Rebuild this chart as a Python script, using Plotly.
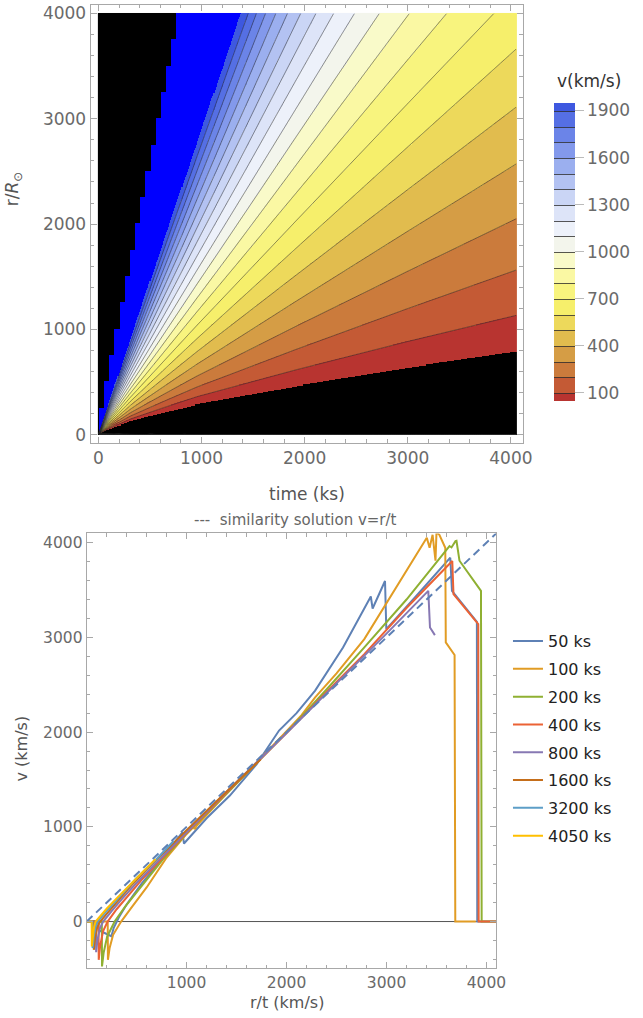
import numpy as np
import plotly.graph_objects as go

# ---------------- top panel: v(r, t) field ----------------
KMS_PER_RSUN_PER_KS = 696.0           # (R_sun / ks) -> km/s, similarity v = r/t
# inner (black) boundary of the flow
bound_t = [0, 10, 95, 315, 640, 955, 1909, 2978, 4050]
bound_r = [0, 8, 47, 126, 208, 284, 457, 631, 790]
# shock position: staircase sampled every 50 ks, 5 R_sun per ks
SHOCK_RATE = 5.0
SHOCK_STEP = 50.0
levels = list(range(100, 2000, 100))
cbar_ticks = [100, 400, 700, 1000, 1300, 1600, 1900]
band_colors = ["#B83430", "#C45A35", "#CB7B3C", "#D59D45", "#E1BC4E", "#EDD95B",
               "#F6EF6B", "#F8F47E", "#FAF8A3", "#F9FAC9", "#F3F5EC", "#EDF1FA",
               "#DDE4F8", "#CAD5F5", "#B3C2F2", "#9BAFEF", "#8399EC", "#6B84E8",
               "#556FE4", "#3E58E0"]
OUT_LOW = "#000000"
OUT_HIGH = "#0000FF"

t = np.linspace(0, 4050, 406)
r = np.linspace(0, 4000, 401)
T, R = np.meshgrid(t, r)
with np.errstate(divide="ignore", invalid="ignore"):
    W = KMS_PER_RSUN_PER_KS * R / T
    rb = np.interp(T, bound_t, bound_r)
    wb = KMS_PER_RSUN_PER_KS * rb / T
    V = W - wb ** 2 / W
shock = SHOCK_RATE * np.ceil(T / SHOCK_STEP) * SHOCK_STEP
above = (R > shock) | (T == 0)
below = (R < rb)
black = above | below
blue = (~black) & (V > 2000)
Z = np.where(black, -50, np.where(blue, 2050, V))
Vl = np.where(above, 2500, np.where(np.isfinite(V), V, 2500))

allcols = [OUT_LOW] + band_colors + [OUT_HIGH]
nb = len(allcols)
cs_heat = []
for k, c in enumerate(allcols):
    cs_heat += [[k / nb, c], [(k + 1) / nb, c]]

cs_bar = [[k / (len(band_colors) - 1), c] for k, c in enumerate(band_colors)]

# ---------------- bottom panel: v vs r/t curves ----------------
curve_names = ["50 ks", "100 ks", "200 ks", "400 ks", "800 ks", "1600 ks", "3200 ks", "4050 ks"]
curve_colors = ["#5E81B5", "#E19C24", "#8FB032", "#EB6235", "#8778B3", "#C56E1A", "#5D9EC7", "#FFBF00"]

x50 = [3, 115, 122, 248, 270, 320, 400, 550, 700, 958, 974, 1200, 1433, 1700, 1925, 2100, 2286,
       2565, 2843, 2861, 2985, 2998, 3300, 3638, 3655, 3904, 3908, 4097]
v50 = [0, 0, -92, -155, -70, 40, 180, 400, 590, 942, 824, 1090, 1330, 1660, 2017, 2200, 2438,
       2894, 3432, 3305, 3596, 3087, 3440, 3842, 3491, 3164, 0, 0]

x100 = [3, 211, 213, 230, 265, 345, 450, 600, 794, 1000, 1070, 1080, 1100, 1400, 2000, 2150, 2286,
        2500, 2778, 3100, 3403, 3431, 3461, 3490, 3500, 3529, 3588, 3593, 3681, 3688, 3894]
v100 = [0, 0, -404, -280, -140, 0, 150, 360, 666, 925, 1000, 975, 1010, 1350, 2010, 2180, 2368,
        2620, 2982, 3530, 4053, 3947, 4084, 3810, 4110, 4084, 3947, 2947, 2814, 0, 0]

x200 = [3, 152, 154, 170, 205, 280, 380, 500, 771, 1000, 1400, 2000, 2400, 2778, 3200, 3630,
        3650, 3690, 3700, 3730, 3945, 3952, 4097]
v200 = [0, 0, -474, -330, -160, 0, 150, 310, 666, 930, 1350, 1995, 2450, 2895, 3400, 3965,
        3950, 4017, 4020, 3810, 3491, 0, 0]

x400 = [3, 119, 121, 135, 165, 210, 300, 400, 550, 754, 1000, 1400, 2000, 2500, 2778, 3200,
        3658, 3670, 3918, 3922, 4097]
v400 = [0, 0, -404, -260, -100, 0, 130, 255, 440, 666, 935, 1360, 1990, 2530, 2824, 3310,
        3807, 3456, 3140, 0, 0]

x800 = [3, 93, 95, 108, 132, 165, 250, 350, 500, 740, 1000, 1400, 2000, 2500, 3000, 3418, 3435, 3484]
v800 = [0, 0, -323, -200, -75, 0, 110, 235, 410, 666, 950, 1370, 1990, 2510, 3040, 3491, 3105, 3024]

x1600 = [3, 70, 72, 84, 105, 135, 200, 300, 450, 600, 800, 1000, 1300, 1740]
v1600 = [0, 0, -299, -180, -60, 0, 80, 205, 385, 550, 760, 965, 1270, 1712]

x3200 = [3, 58, 60, 70, 88, 110, 170, 250, 350, 500, 700, 870]
v3200 = [0, 0, -280, -170, -60, 0, 75, 170, 290, 460, 660, 850]

x4050 = [3, 50, 52, 62, 74, 90, 150, 200, 300, 400, 550, 690]
v4050 = [0, 0, -263, -150, -60, 0, 80, 135, 245, 352, 515, 661]

curves_x = [x50, x100, x200, x400, x800, x1600, x3200, x4050]
curves_v = [v50, v100, v200, v400, v800, v1600, v3200, v4050]
sim_x = [0, 4100]
sim_v = [0, 4100]

# ---------------- figure ----------------
W_PX, H_PX = 643, 1018
FONT = "DejaVu Sans"
TICK_GRAY = "#6a6a6a"
FRAME = "#a8a8a8"


def fx(px):
    return px / W_PX


def fy(py):
    return 1 - py / H_PX


fig = go.Figure()

fig.add_trace(go.Heatmap(x=t, y=r, z=Z, zmin=-100, zmax=2100, colorscale=cs_heat,
                         showscale=False, zsmooth=False, hoverinfo="skip", showlegend=False,
                         xaxis="x", yaxis="y"))
fig.add_trace(go.Contour(x=t, y=r, z=Vl, showscale=False, hoverinfo="skip", showlegend=False,
                         contours=dict(start=levels[0], end=levels[-1], size=100, coloring="none"),
                         line=dict(color="rgba(45,45,45,0.55)", width=1),
                         xaxis="x", yaxis="y"))
# colour bar (trace lies outside its hidden axes)
fig.add_trace(go.Contour(x=[0, 1], y=[0, 1], z=[[0, 2000], [0, 2000]], showlegend=False,
                         contours=dict(start=levels[0], end=levels[-1], size=100, coloring="fill"),
                         colorscale=cs_bar, line=dict(color="rgba(45,45,45,0.8)", width=1),
                         hoverinfo="skip", xaxis="x3", yaxis="y3",
                         colorbar=dict(x=fx(563), xanchor="left", xpad=0,
                                       y=fy(102), yanchor="top", ypad=0,
                                       len=298, lenmode="pixels", thickness=21,
                                       outlinewidth=0, tickvals=cbar_ticks,
                                       ticks="outside", ticklen=9, tickcolor="#bbbbbb",
                                       tickfont=dict(family=FONT, size=17, color=TICK_GRAY))))

for name, col, xs, vs in zip(curve_names, curve_colors, curves_x, curves_v):
    fig.add_trace(go.Scatter(x=xs, y=vs, mode="lines", name=name, legendgroup=name,
                             line=dict(color=col, width=2), xaxis="x2", yaxis="y2"))
fig.add_trace(go.Scatter(x=sim_x, y=sim_v, mode="lines", showlegend=False,
                         line=dict(color="#5E81B5", width=2, dash="8px,5px"),
                         xaxis="x2", yaxis="y2"))

axis_common = dict(showgrid=False, zeroline=False, showline=True, linecolor=FRAME, linewidth=1,
                   mirror="ticks", ticks="inside", ticklen=6, tickcolor=FRAME,
                   minor=dict(ticks="inside", ticklen=3.5, tickcolor=FRAME, dtick=200, showgrid=False))

fig.update_layout(
    width=W_PX, height=H_PX, margin=dict(l=0, r=0, t=0, b=0),
    paper_bgcolor="white", plot_bgcolor="white",
    xaxis=dict(domain=[fx(92), fx(531)], range=[-76, 4115], anchor="y",
               tickvals=[0, 1000, 2000, 3000, 4000],
               tickfont=dict(family=FONT, size=17, color=TICK_GRAY), **axis_common),
    yaxis=dict(domain=[fy(443), fy(4)], range=[-76, 4081], anchor="x",
               tickvals=[0, 1000, 2000, 3000, 4000],
               tickfont=dict(family=FONT, size=17, color=TICK_GRAY), **axis_common),
    xaxis2=dict(domain=[fx(88), fx(504)], range=[0, 4097], anchor="y2",
                tickvals=[1000, 2000, 3000, 4000],
                tickfont=dict(family=FONT, size=15.5, color=TICK_GRAY), **axis_common),
    yaxis2=dict(domain=[fy(970), fy(534)], range=[-492, 4098], anchor="x2",
                tickvals=[0, 1000, 2000, 3000, 4000],
                tickfont=dict(family=FONT, size=15.5, color=TICK_GRAY), **axis_common),
    xaxis3=dict(domain=[0, 0.01], range=[10, 11], visible=False, anchor="y3"),
    yaxis3=dict(domain=[0, 0.01], range=[10, 11], visible=False, anchor="x3"),
    showlegend=True,
    legend=dict(x=fx(516), y=fy(625), xanchor="left", yanchor="top",
                font=dict(family=FONT, size=16, color="#222222"), tracegroupgap=4,
                itemwidth=30, bgcolor="rgba(0,0,0,0)"),
)
fig.add_shape(type="line", xref="x2", yref="y2", x0=0, x1=4097, y0=0, y1=0,
              line=dict(color="#555555", width=1), layer="below")


def label(px, py, text, size=17, color="#555555", angle=0):
    fig.add_annotation(x=fx(px), y=fy(py), xref="paper", yref="paper", showarrow=False,
                       xanchor="center", yanchor="middle", text=text, textangle=angle,
                       font=dict(family=FONT, size=size, color=color))


label(312, 494, "time (ks)")
label(14, 188, "r/<i>R</i><sub>⊙</sub>", angle=-90)
label(598, 80, "v(km/s)", color="#333333")
label(300, 521, "---  similarity solution v=r/t", size=15, color="#666666")
label(22, 750, "v (km/s)", size=16, angle=-90)
label(292, 1004, "r/t (km/s)", size=16)

fig.write_html("out.html", post_script="document.body.style.margin='0';",
               config={"displayModeBar": False})
